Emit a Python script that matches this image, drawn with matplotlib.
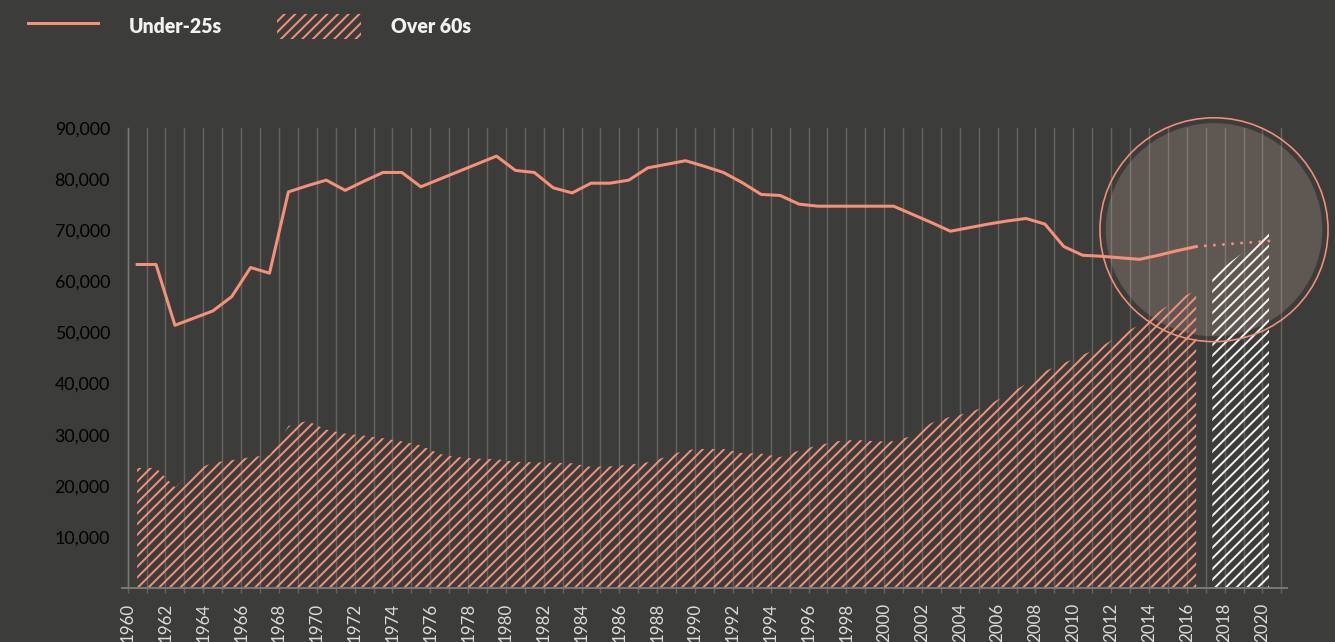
import matplotlib
matplotlib.use('Agg')
import matplotlib.pyplot as plt
from matplotlib.lines import Line2D
from matplotlib.patches import Patch, Ellipse
import numpy as np

# Data
years = np.arange(1960, 2017)
under_25s = [63300, 63300, 51400, 52800, 54200, 57000, 62700, 61600, 77500, 78700,
             79800, 77800, 79600, 81300, 81300, 78500, 80000, 81500, 83000, 84500,
             81700, 81300, 78300, 77300, 79200, 79200, 79800, 82200, 82900, 83600,
             82500, 81300, 79300, 77000, 76800, 75100, 74700, 74700, 74700, 74700,
             74700, 73100, 71500, 69800, 70500, 71200, 71800, 72300, 71200, 66800,
             65100, 64900, 64600, 64300, 65100, 66000, 66800]
over_60s = [23500, 23500, 19700, 23000, 24500, 25000, 25600, 26000, 31700, 32700,
            31000, 30200, 29800, 29300, 28700, 27900, 26200, 25600, 25300, 25200,
            24700, 24600, 24500, 24400, 23700, 23800, 24100, 24600, 25700, 27000,
            27200, 27200, 26400, 26300, 25600, 26900, 27900, 28700, 29000, 28700,
            28700, 29800, 32300, 33500, 34300, 35800, 37800, 39900, 42400, 44000,
            45600, 47300, 49500, 51500, 54000, 56500, 58200]
proj_years = np.array([2017, 2018, 2019, 2020])
proj_under_25s = [67050, 67330, 67620, 67900]
proj_over_60s = [61100, 63900, 66700, 69500]

bg = '#3c3c3a'
salmon = '#f79079'
grid_c = '#64645f'
text_c = '#dcdcd6'

plt.rcParams['font.family'] = ['Lato', 'DejaVu Sans']
plt.rcParams['hatch.linewidth'] = 1.1

DPI = 128
fig = plt.figure(figsize=(1335 / DPI, 642 / DPI), dpi=DPI, facecolor=bg)
ax = fig.add_axes([122 / 1335, 54 / 642, 1165 / 1335, 460 / 642])
ax.set_facecolor(bg)

x_hist = years + 0.5
x_proj = proj_years + 0.35

# Over 60s hatched areas
ax.fill_between(x_hist, over_60s, facecolor='none', edgecolor=salmon,
                hatch='////', linewidth=0, zorder=2)
ax.fill_between(x_proj, proj_over_60s, facecolor='none', edgecolor='#f4f4f2',
                hatch='////', linewidth=0, zorder=2)

# Under-25s line + dotted projection
ax.plot(x_hist, under_25s, color=salmon, lw=1.7, solid_joinstyle='round', zorder=3)
ax.plot(np.r_[x_hist[-1], x_proj], np.r_[under_25s[-1], proj_under_25s],
        color=salmon, lw=1.7, linestyle=(0, (0.01, 3)), dash_capstyle='round', zorder=3)

# highlight circle: translucent disc over the grid, behind the data; ring on top
ax.add_patch(Ellipse((2017.44, 70100), 11.45, 41700, facecolor='#dcbcaa',
                     edgecolor='none', alpha=0.22, zorder=1.5, clip_on=False))
ax.add_patch(Ellipse((2017.44, 70100), 12.06, 43800, facecolor='none',
                     edgecolor=salmon, lw=0.9, zorder=5, clip_on=False))

# axes styling
ax.set_xlim(1959.7, 2021.3)
ax.set_ylim(0, 90000)
tick_years = np.arange(1960, 2022)
ax.set_xticks(tick_years)
ax.set_xticklabels([str(y) if (y % 2 == 0 and y <= 2020) else '' for y in tick_years],
                   rotation=90, fontsize=9.5, color=text_c)
ax.set_yticks(np.arange(10000, 90001, 10000))
ax.set_yticklabels([f'{v:,}' for v in range(10000, 90001, 10000)],
                   fontsize=10.4, color=text_c)
ax.tick_params(axis='x', length=2.8, width=0.8, color=grid_c, pad=5.6)
ax.tick_params(axis='y', length=0, pad=10)
ax.grid(axis='x', color=grid_c, lw=0.8, zorder=1)
ax.set_axisbelow(True)
for s in ['top', 'right']:
    ax.spines[s].set_visible(False)
ax.spines['left'].set_position(('data', 1960))
ax.spines['left'].set_color('#7a7a75')
ax.spines['left'].set_linewidth(0.8)
ax.spines['bottom'].set_color('#7a7a75')
ax.spines['bottom'].set_linewidth(1.1)

# legend, one entry per box so each handle keeps its own size
leg_kw = dict(loc='upper left', frameon=False, prop=dict(weight='heavy', size=11),
              labelcolor='#f2f2f2', handleheight=1.6, handletextpad=1.55,
              borderpad=0, borderaxespad=0)
fig.legend([Line2D([], [], color=salmon, lw=1.7)], ['Under-25s'],
           bbox_to_anchor=(28 / 1335, 1 - 14 / 642), handlelength=3.6, **leg_kw)
fig.legend([Patch(facecolor='none', edgecolor=salmon, hatch='////', lw=0)], ['Over 60s'],
           bbox_to_anchor=(277 / 1335, 1 - 14 / 642), handlelength=4.3, **leg_kw)

fig.savefig('out.png', dpi=DPI, facecolor=bg)
